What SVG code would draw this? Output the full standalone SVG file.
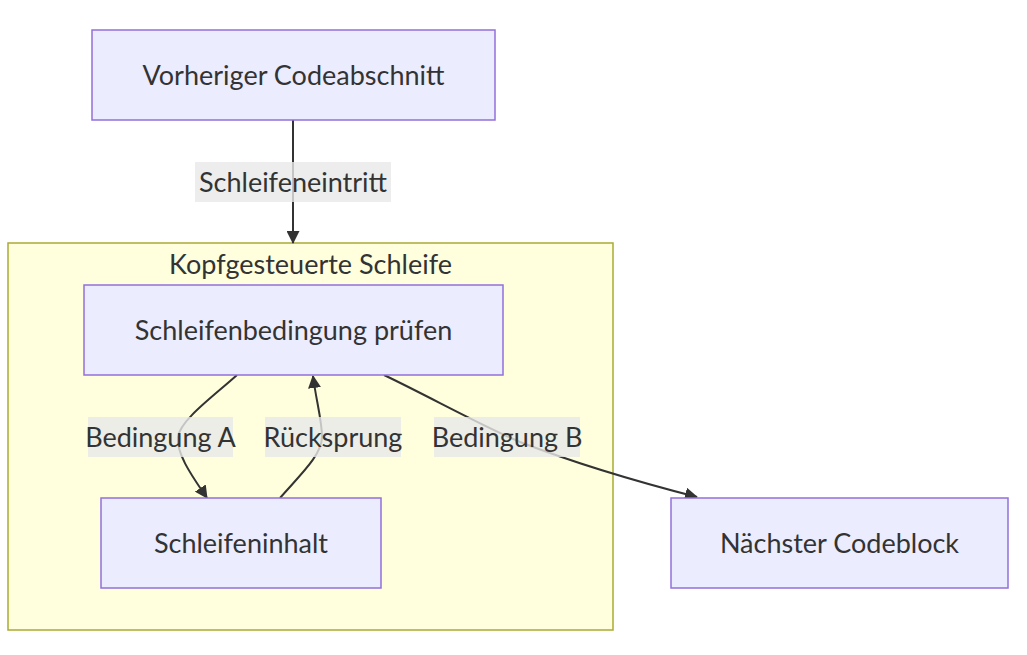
<svg xmlns="http://www.w3.org/2000/svg" width="1027" height="655" viewBox="0 0 1027 655">
<defs>
<marker id="arr" viewBox="0 0 13 13" refX="12" refY="6.5" markerWidth="13" markerHeight="13" markerUnits="userSpaceOnUse" orient="auto">
<path d="M0,0 L13,6.5 L0,13 z" fill="#333333"/>
</marker>
<style>
.node rect{fill:#ececff;stroke:#9370db;stroke-width:1.5}
.cluster rect{fill:#ffffde;stroke:#aaaa33;stroke-width:1.5}
text{font-family:"Lato","Open Sans",sans-serif;font-size:27px;fill:#333333;text-anchor:middle;dominant-baseline:central}
.edge{fill:none;stroke:#333333;stroke-width:2;marker-end:url(#arr)}
.lbl rect{fill:rgba(232,232,232,0.8)}
</style>
</defs>
<rect width="1027" height="655" fill="#ffffff"/>
<g id="cluster-loop" class="cluster">
<rect x="8" y="243" width="605" height="387"/>
<text x="310.500" y="263">Kopfgesteuerte Schleife</text>
</g>
<g id="connectors">
<path class="edge" d="M293,120 L293,243"/>
<path class="edge" d="M237,375 C215,395 180,420 178,437 C176,455 195,480 207,498"/>
<path class="edge" d="M280,498 C300,475 322,455 322,437 C322,420 316,400 313,376"/>
<path class="edge" d="M384,375 C430,397 480,425 520,442 C580,465 650,485 697,497"/>
</g>
<g id="edge-labels">
<g class="lbl"><rect x="195" y="162" width="196" height="40"/><text x="293" y="181">Schleifeneintritt</text></g>
<g class="lbl"><rect x="88" y="417" width="145" height="40"/><text x="160.500" y="436">Bedingung A</text></g>
<g class="lbl"><rect x="265" y="417" width="136" height="40"/><text x="333" y="436">Rücksprung</text></g>
<g class="lbl"><rect x="434" y="417" width="146" height="40"/><text x="507" y="436">Bedingung B</text></g>
</g>
<g id="node-vorher" class="node">
<rect x="92" y="30" width="403" height="90"/>
<text x="293.500" y="74">Vorheriger Codeabschnitt</text>
</g>
<g id="node-bedingung" class="node">
<rect x="84" y="285" width="419" height="90"/>
<text x="293.500" y="329">Schleifenbedingung prüfen</text>
</g>
<g id="node-inhalt" class="node">
<rect x="101" y="498" width="280" height="90"/>
<text x="241" y="542">Schleifeninhalt</text>
</g>
<g id="node-naechster" class="node">
<rect x="671" y="498" width="337" height="90"/>
<text x="839.500" y="542">Nächster Codeblock</text>
</g>
</svg>
